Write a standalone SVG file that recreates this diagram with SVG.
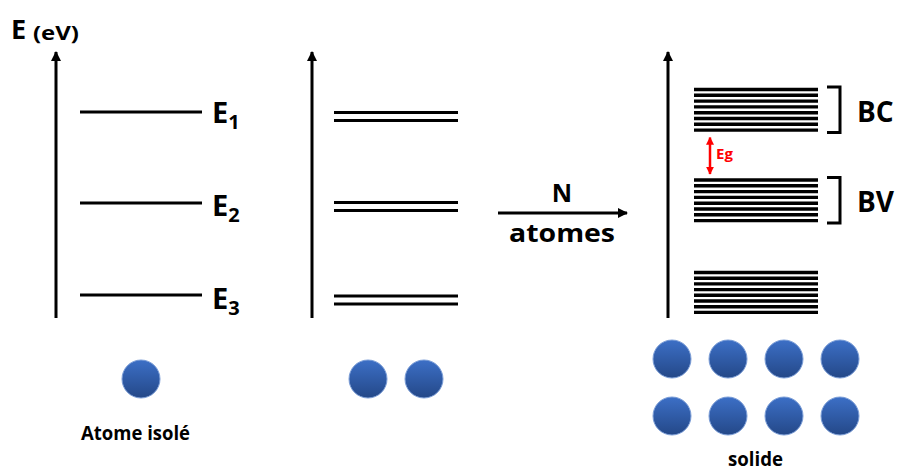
<svg xmlns="http://www.w3.org/2000/svg" width="898" height="471" viewBox="0 0 898 471">
<defs>
<marker id="ah" viewBox="0 0 10 10" refX="9" refY="5" markerWidth="10" markerHeight="10" markerUnits="userSpaceOnUse" orient="auto">
<path d="M0,0 L10,5 L0,10 Z" fill="#000"/>
</marker>
<marker id="ahr" viewBox="0 0 10 10" refX="9" refY="5" markerWidth="8" markerHeight="9" markerUnits="userSpaceOnUse" orient="auto-start-reverse">
<path d="M0,0 L10,5 L0,10 Z" fill="#f00"/>
</marker>
<linearGradient id="ball" x1="0" y1="0" x2="0" y2="1">
<stop offset="0" stop-color="#3c6fc6"/>
<stop offset="1" stop-color="#244888"/>
</linearGradient>
<g id="atom"><circle r="19" fill="url(#ball)" stroke="#7d9fd8" stroke-width="1"/></g>
</defs>
<style>
text{font-family:"Open Sans","Liberation Sans",sans-serif;font-weight:bold;fill:#000}
.lvl{stroke:#000;stroke-width:3;fill:none}
.band{stroke:#000;stroke-width:3.4}
.axis{stroke:#000;stroke-width:3;fill:none}
.br{stroke:#000;stroke-width:3;fill:none}
</style>

<g id="connectors">
<line class="axis" x1="56" y1="318" x2="56" y2="52" marker-end="url(#ah)"/>
<line class="axis" x1="312" y1="318" x2="312" y2="52" marker-end="url(#ah)"/>
<line class="axis" x1="668" y1="318" x2="668" y2="52" marker-end="url(#ah)"/>
<line class="axis" x1="498" y1="213" x2="627" y2="213" stroke-width="2.5" marker-end="url(#ah)"/>
<line x1="710" y1="137.5" x2="710" y2="174" stroke="#f00" stroke-width="2.5" marker-start="url(#ahr)" marker-end="url(#ahr)"/>
</g>

<g id="axis-label">
<text x="11" y="39" font-size="27">E</text>
<text x="33" y="40" font-size="20" textLength="46" lengthAdjust="spacingAndGlyphs">(eV)</text>
</g>

<g id="atome-isole-levels">
<line class="lvl" x1="80" y1="112" x2="202" y2="112"/>
<line class="lvl" x1="80" y1="203" x2="202" y2="203"/>
<line class="lvl" x1="80" y1="295" x2="202" y2="295"/>
<text x="212" y="123" font-size="29">E<tspan font-size="20" dy="6">1</tspan></text>
<text x="212" y="216" font-size="29">E<tspan font-size="20" dy="6">2</tspan></text>
<text x="212" y="309" font-size="29">E<tspan font-size="20" dy="6">3</tspan></text>
</g>

<g id="deux-atomes-levels">
<line class="lvl" x1="334" y1="112.5" x2="458" y2="112.5"/>
<line class="lvl" x1="334" y1="120.5" x2="458" y2="120.5"/>
<line class="lvl" x1="334" y1="202.5" x2="458" y2="202.5"/>
<line class="lvl" x1="334" y1="210.5" x2="458" y2="210.5"/>
<line class="lvl" x1="334" y1="296" x2="458" y2="296"/>
<line class="lvl" x1="334" y1="304" x2="458" y2="304"/>
</g>

<g id="n-atomes-label">
<text x="562" y="202" font-size="25" text-anchor="middle">N</text>
<text x="562" y="242" font-size="25" text-anchor="middle" textLength="106" lengthAdjust="spacingAndGlyphs">atomes</text>
</g>

<g id="bande-BC">
<line class="band" x1="694" y1="89.5" x2="818" y2="89.5"/>
<line class="band" x1="694" y1="95.3" x2="818" y2="95.3"/>
<line class="band" x1="694" y1="101.1" x2="818" y2="101.1"/>
<line class="band" x1="694" y1="106.9" x2="818" y2="106.9"/>
<line class="band" x1="694" y1="112.7" x2="818" y2="112.7"/>
<line class="band" x1="694" y1="118.5" x2="818" y2="118.5"/>
<line class="band" x1="694" y1="124.3" x2="818" y2="124.3"/>
<line class="band" x1="694" y1="130.1" x2="818" y2="130.1"/>
<path class="br" d="M827,87 H840 V132.5 H827"/>
<text x="857" y="122" font-size="28">BC</text>
</g>

<g id="bande-BV">
<line class="band" x1="694" y1="180" x2="818" y2="180"/>
<line class="band" x1="694" y1="185.8" x2="818" y2="185.8"/>
<line class="band" x1="694" y1="191.6" x2="818" y2="191.6"/>
<line class="band" x1="694" y1="197.4" x2="818" y2="197.4"/>
<line class="band" x1="694" y1="203.2" x2="818" y2="203.2"/>
<line class="band" x1="694" y1="209" x2="818" y2="209"/>
<line class="band" x1="694" y1="214.8" x2="818" y2="214.8"/>
<line class="band" x1="694" y1="220.6" x2="818" y2="220.6"/>
<path class="br" d="M827,177.5 H840 V223 H827"/>
<text x="857" y="212" font-size="28">BV</text>
</g>

<g id="bande-basse">
<line class="band" x1="694" y1="272.5" x2="818" y2="272.5"/>
<line class="band" x1="694" y1="278.2" x2="818" y2="278.2"/>
<line class="band" x1="694" y1="283.9" x2="818" y2="283.9"/>
<line class="band" x1="694" y1="289.6" x2="818" y2="289.6"/>
<line class="band" x1="694" y1="295.3" x2="818" y2="295.3"/>
<line class="band" x1="694" y1="301" x2="818" y2="301"/>
<line class="band" x1="694" y1="306.7" x2="818" y2="306.7"/>
<line class="band" x1="694" y1="312.4" x2="818" y2="312.4"/>
</g>

<g id="gap-Eg">
<text x="716" y="159" font-size="15" style="fill:#f00">Eg</text>
</g>

<g id="atome-isole">
<use href="#atom" x="141" y="379"/>
<text x="135.5" y="440" font-size="19.5" text-anchor="middle" textLength="109" lengthAdjust="spacingAndGlyphs">Atome isolé</text>
</g>

<g id="deux-atomes">
<use href="#atom" x="368" y="379"/>
<use href="#atom" x="424" y="379"/>
</g>

<g id="solide">
<use href="#atom" x="672" y="359"/>
<use href="#atom" x="728" y="359"/>
<use href="#atom" x="784" y="359"/>
<use href="#atom" x="840" y="359"/>
<use href="#atom" x="672" y="416"/>
<use href="#atom" x="728" y="416"/>
<use href="#atom" x="784" y="416"/>
<use href="#atom" x="840" y="416"/>
<text x="755.5" y="466" font-size="19.5" text-anchor="middle" textLength="55" lengthAdjust="spacingAndGlyphs">solide</text>
</g>
</svg>
